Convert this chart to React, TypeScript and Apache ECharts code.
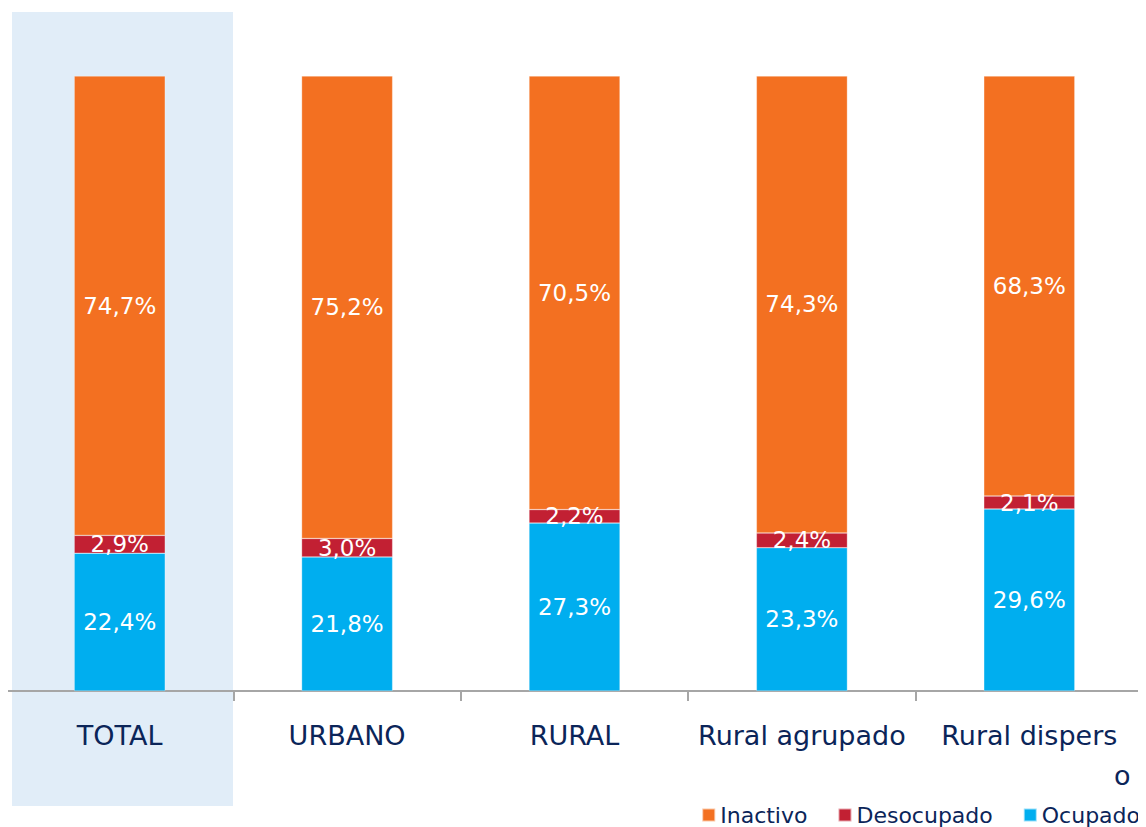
import React, { useEffect, useRef } from "react";
import * as echarts from "echarts";

const categories = ["TOTAL", "URBANO", "RURAL", "Rural agrupado", "Rural disperso"];
const inactivo = [74.7, 75.2, 70.5, 74.3, 68.3];
const desocupado = [2.9, 3.0, 2.2, 2.4, 2.1];
const ocupado = [22.4, 21.8, 27.3, 23.3, 29.6];

const FONT = "'DejaVu Sans', sans-serif";
const NAVY = "#0B2559";

export default function App() {
  const ref = useRef<HTMLDivElement>(null);
  useEffect(() => {
    if (!ref.current) return;
    const chart = echarts.init(ref.current, null, { renderer: "svg" });
    const fmt = (p: any) => String(p.value.toFixed(1)).replace(".", ",") + "%";
    const label = {
      show: true,
      position: "inside" as const,
      color: "#fff",
      fontSize: 23,
      fontFamily: FONT,
      formatter: fmt,
    };
    const mk = (name: string, data: number[], color: string) => ({
      name,
      type: "bar",
      stack: "t",
      data,
      barWidth: 91,
      itemStyle: { color, borderColor: "rgba(255,255,255,0.6)", borderWidth: 0.5 },
      label,
    });
    chart.setOption({
      animation: false,
      grid: { left: 6, right: 3, top: 76, bottom: 136, containLabel: false },
      graphic: [
        {
          type: "rect",
          z: -10,
          shape: { x: 12, y: 12, width: 221, height: 794 },
          style: { fill: "#E1EDF8" },
          silent: true,
        },
      ],
      legend: {
        data: ["Inactivo", "Desocupado", "Ocupado"],
        right: 4,
        bottom: -1,
        padding: [2, 2, 2, 2],
        itemWidth: 13,
        itemHeight: 13,
        itemGap: 30,
        icon: "rect",
        textStyle: { color: NAVY, fontSize: 22, fontFamily: FONT },
      },
      xAxis: {
        type: "category",
        data: categories,
        axisLine: { lineStyle: { color: "#A6A6A6", width: 2 } },
        axisTick: { show: true, length: 10, lineStyle: { color: "#A6A6A6", width: 2 } },
        axisLabel: {
          interval: 0,
          margin: 24,
          color: NAVY,
          fontSize: 27,
          fontFamily: FONT,
          lineHeight: 40,
          formatter: (v: string) =>
            v === "Rural disperso" ? "Rural dispers\n{o|o}" : v,
          rich: {
            o: { padding: [0, 0, 0, 186], fontSize: 27, color: NAVY, fontFamily: FONT, lineHeight: 40 },
          },
        },
      },
      yAxis: { type: "value", min: 0, max: 100, show: false, splitLine: { show: false } },
      series: [
        mk("Ocupado", ocupado, "#00AEEF"),
        mk("Desocupado", desocupado, "#C22033"),
        mk("Inactivo", inactivo, "#F37021"),
      ],
    });
    return () => chart.dispose();
  }, []);
  return <div ref={ref} style={{ width: 1146, height: 827, marginTop: -8, marginLeft: -8 }} />;
}
